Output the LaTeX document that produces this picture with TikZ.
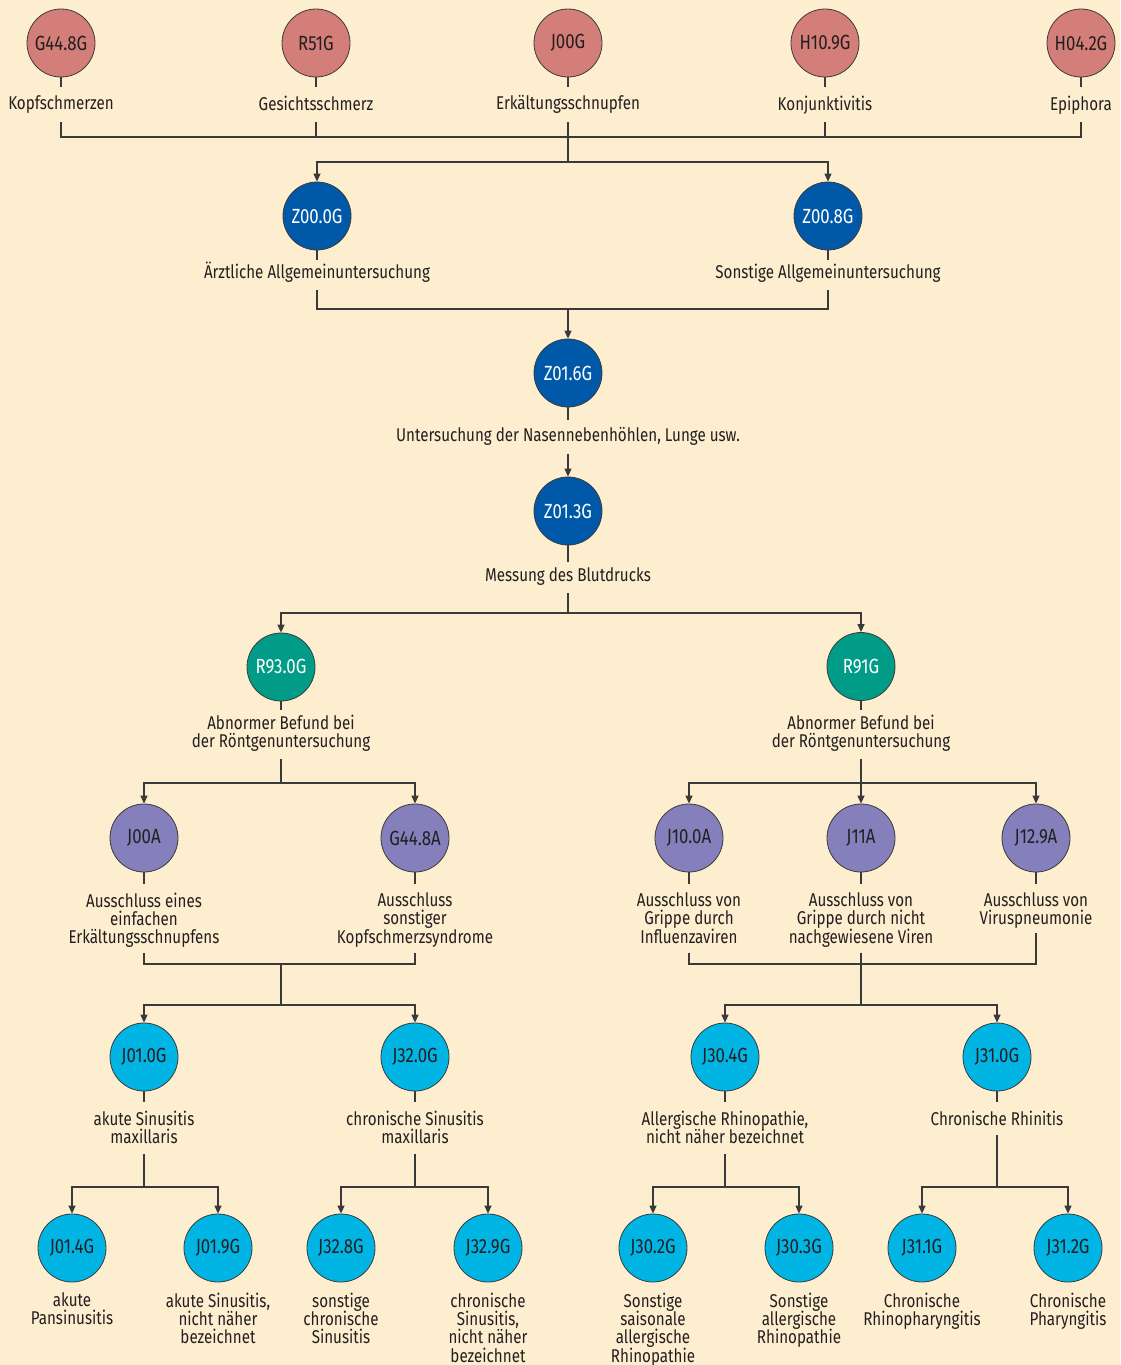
\documentclass[tikz,border=0pt]{standalone}
\usepackage{fontspec}
\setmainfont{Fira Sans}[FakeStretch=0.82]
\usetikzlibrary{arrows.meta}
\definecolor{bgc}{HTML}{FDEED0}
\definecolor{pinkc}{HTML}{D47E79}
\definecolor{dbluec}{HTML}{0058A9}
\definecolor{tealc}{HTML}{009C87}
\definecolor{purpc}{HTML}{857FBB}
\definecolor{cyanc}{HTML}{00B4E4}
\definecolor{linec}{HTML}{3A3A3A}
\definecolor{txtc}{HTML}{231F20}
\newcommand\ft{\rule{0pt}{13.5pt}}
\tikzset{
  circ/.style={circle, minimum size=68pt, inner sep=0pt, draw=linec, line width=0.8pt,
    font=\fontsize{20.5}{20.5}\selectfont},
  cpink/.style={circ, fill=pinkc, text=txtc},
  cdblue/.style={circ, fill=dbluec, text=white},
  cteal/.style={circ, fill=tealc, text=white},
  cpurp/.style={circ, fill=purpc, text=txtc},
  ccyan/.style={circ, fill=cyanc, text=txtc},
  lbl/.style={anchor=north, inner sep=0pt, align=center, text=txtc, text depth=5pt,
    font=\fontsize{18.5}{18.4}\selectfont},
  conn/.style={draw=linec, line width=1.2pt},
  arr/.style={conn, -{Triangle[length=8pt,width=7pt]}},
}
\begin{document}
\begin{tikzpicture}[x=1pt,y=-1pt]
\fill[bgc] (0,0) rectangle (1120,1365);
\useasboundingbox (0,0) rectangle (1120,1365);

% ---- Row 1
\node[cpink] (p1) at (61,43) {G44.8G};
\node[cpink] (p2) at (316,43) {R51G};
\node[cpink] (p3) at (568,43) {J00G};
\node[cpink] (p4) at (825,43) {H10.9G};
\node[cpink] (p5) at (1081,43) {H04.2G};
\node[lbl] (l1) at (61,95.5) {\ft Kopfschmerzen};
\node[lbl] (l2) at (316,95.5) {\ft Gesichtsschmerz};
\node[lbl] (l3) at (568,95.5) {\ft Erkältungsschnupfen};
\node[lbl] (l4) at (825,95.5) {\ft Konjunktivitis};
\node[lbl] (l5) at (1081,95.5) {\ft Epiphora};
\foreach \i in {1,...,5} \draw[conn, shorten >=8.5pt] (p\i.south) -- (l\i.north);
\coordinate (bus1) at (568,137);
\coordinate (bus2) at (568,162);
\foreach \i in {1,2,4,5} \draw[conn, shorten <=7pt] (l\i.south) |- (bus1);
\draw[conn, shorten <=7pt] (l3.south) -- (bus1);
\draw[conn] (bus1) -- (bus2);

% ---- Z00
\node[cdblue] (z1) at (317,216) {Z00.0G};
\node[cdblue] (z2) at (828,216) {Z00.8G};
\draw[arr] (bus2) -| (z1);
\draw[arr] (bus2) -| (z2);
\node[lbl] (lz1) at (317,261.7) {\ft Ärztliche Allgemeinuntersuchung};
\node[lbl] (lz2) at (828,264) {\ft Sonstige Allgemeinuntersuchung};
\draw[conn, shorten >=1.7pt] (z1.south) -- (lz1.north);
\draw[conn, shorten >=4pt] (z2.south) -- (lz2.north);
\coordinate (bus3) at (568,309);
\draw[conn, shorten <=6pt] (lz1.south) |- (bus3);
\draw[conn, shorten <=6pt] (lz2.south) |- (bus3);

% ---- Z01.6G
\node[cdblue] (z3) at (568,373) {Z01.6G};
\draw[arr] (bus3) -- (z3);
\node[lbl] (lz3) at (568,427.5) {\ft Untersuchung der Nasennebenhöhlen, Lunge usw.};
\draw[conn, shorten >=7.5pt] (z3.south) -- (lz3.north);

% ---- Z01.3G
\node[cdblue] (z4) at (568,511) {Z01.3G};
\draw[arr, shorten <=7pt] (lz3.south) -- (z4);
\node[lbl] (lz4) at (568,567) {\ft Messung des Blutdrucks};
\draw[conn, shorten >=5pt] (z4.south) -- (lz4.north);
\coordinate (bus4) at (568,613);
\draw[conn, shorten <=7pt] (lz4.south) -- (bus4);

% ---- R row
\node[cteal] (r1) at (281,667) {R93.0G};
\node[cteal] (r2) at (861,666.5) {R91G};
\draw[arr] (bus4) -| (r1);
\draw[arr] (bus4) -| (r2);
\node[lbl] (lr1) at (281,714.5) {\ft Abnormer Befund bei\\der Röntgenuntersuchung};
\node[lbl] (lr2) at (861,714.5) {\ft Abnormer Befund bei\\der Röntgenuntersuchung};
\draw[conn, shorten >=4.5pt] (r1.south) -- (lr1.north);
\draw[conn, shorten >=4.5pt] (r2.south) -- (lr2.north);
\coordinate (bus5L) at (281,783);
\coordinate (bus5R) at (861,783);
\draw[conn, shorten <=6pt] (lr1.south) -- (bus5L);
\draw[conn, shorten <=6pt] (lr2.south) -- (bus5R);

% ---- A row
\node[cpurp] (a1) at (144,838) {J00A};
\node[cpurp] (a2) at (415,838) {G44.8A};
\node[cpurp] (a3) at (689,838) {J10.0A};
\node[cpurp] (a4) at (861,838) {J11A};
\node[cpurp] (a5) at (1036,838) {J12.9A};
\draw[arr] (bus5L) -| (a1);
\draw[arr] (bus5L) -| (a2);
\draw[arr] (bus5R) -| (a3);
\draw[arr] (bus5R) -- (a4);
\draw[arr] (bus5R) -| (a5);
\node[lbl] (la1) at (144,892.5) {\ft Ausschluss eines\\einfachen\\Erkältungsschnupfens};
\node[lbl] (la2) at (415,892.5) {\ft Ausschluss\\sonstiger\\Kopfschmerzsyndrome};
\node[lbl] (la3) at (689,892.5) {\ft Ausschluss von\\Grippe durch\\Influenzaviren};
\node[lbl] (la4) at (861,892.5) {\ft Ausschluss von\\Grippe durch nicht\\nachgewiesene Viren};
\node[lbl] (la5) at (1036,892.5) {\ft Ausschluss von\\Viruspneumonie};
\foreach \i in {1,...,5} \draw[conn, shorten >=8.5pt] (a\i.south) -- (la\i.north);
\coordinate (bus6L) at (281,964);
\coordinate (bus6R) at (861,964);
\coordinate (bus7L) at (281,1005);
\coordinate (bus7R) at (861,1005);
\draw[conn, shorten <=4pt] (la1.south) |- (bus6L);
\draw[conn, shorten <=4pt] (la2.south) |- (bus6L);
\draw[conn, shorten <=4pt] (la3.south) |- (bus6R);
\draw[conn, shorten <=4pt] (la4.south) -- (bus6R);
\draw[conn, shorten <=3pt] (la5.south) |- (bus6R);
\draw[conn] (bus6L) -- (bus7L);
\draw[conn] (bus6R) -- (bus7R);

% ---- C row
\node[ccyan] (c1) at (144,1057) {J01.0G};
\node[ccyan] (c2) at (415,1057) {J32.0G};
\node[ccyan] (c3) at (725,1057) {J30.4G};
\node[ccyan] (c4) at (997,1057) {J31.0G};
\draw[arr] (bus7L) -| (c1);
\draw[arr] (bus7L) -| (c2);
\draw[arr] (bus7R) -| (c3);
\draw[arr] (bus7R) -| (c4);
\node[lbl] (lc1) at (144,1110.5) {\ft akute Sinusitis\\maxillaris};
\node[lbl] (lc2) at (415,1110.5) {\ft chronische Sinusitis\\maxillaris};
\node[lbl] (lc3) at (725,1110.5) {\ft Allergische Rhinopathie,\\nicht näher bezeichnet};
\node[lbl] (lc4) at (997,1110.5) {\ft Chronische Rhinitis};
\foreach \i in {1,...,4} \draw[conn, shorten >=9pt] (c\i.south) -- (lc\i.north);
\coordinate (bus8a) at (144,1187);
\coordinate (bus8b) at (415,1187);
\coordinate (bus8c) at (725,1187);
\coordinate (bus8d) at (997,1187);
\draw[conn, shorten <=5pt] (lc1.south) -- (bus8a);
\draw[conn, shorten <=5pt] (lc2.south) -- (bus8b);
\draw[conn, shorten <=5pt] (lc3.south) -- (bus8c);
\draw[conn, shorten <=5pt] (lc4.south) -- (bus8d);

% ---- D row
\node[ccyan] (d1) at (72,1248) {J01.4G};
\node[ccyan] (d2) at (218,1248) {J01.9G};
\node[ccyan] (d3) at (341,1248) {J32.8G};
\node[ccyan] (d4) at (488,1248) {J32.9G};
\node[ccyan] (d5) at (653,1248) {J30.2G};
\node[ccyan] (d6) at (799,1248) {J30.3G};
\node[ccyan] (d7) at (922,1248) {J31.1G};
\node[ccyan] (d8) at (1068,1248) {J31.2G};
\draw[arr] (bus8a) -| (d1);
\draw[arr] (bus8a) -| (d2);
\draw[arr] (bus8b) -| (d3);
\draw[arr] (bus8b) -| (d4);
\draw[arr] (bus8c) -| (d5);
\draw[arr] (bus8c) -| (d6);
\draw[arr] (bus8d) -| (d7);
\draw[arr] (bus8d) -| (d8);
\node[lbl] (ld1) at (72,1292.5) {\ft akute\\Pansinusitis};
\node[lbl] (ld2) at (218,1292.5) {\ft akute Sinusitis,\\nicht näher\\bezeichnet};
\node[lbl] (ld3) at (341,1292.5) {\ft sonstige\\chronische\\Sinusitis};
\node[lbl] (ld4) at (488,1292.5) {\ft chronische\\Sinusitis,\\nicht näher\\bezeichnet};
\node[lbl] (ld5) at (653,1292.5) {\ft Sonstige\\saisonale\\allergische\\Rhinopathie};
\node[lbl] (ld6) at (799,1292.5) {\ft Sonstige\\allergische\\Rhinopathie};
\node[lbl] (ld7) at (922,1292.5) {\ft Chronische\\Rhinopharyngitis};
\node[lbl] (ld8) at (1068,1292.5) {\ft Chronische\\Pharyngitis};
\end{tikzpicture}
\end{document}
